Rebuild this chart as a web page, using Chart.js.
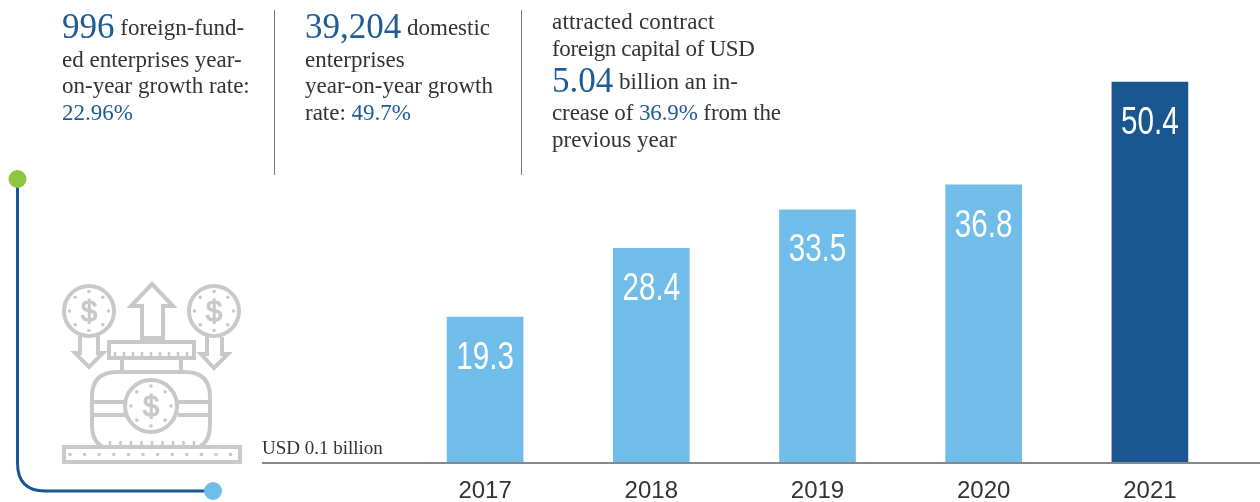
<!DOCTYPE html>
<html><head><meta charset="utf-8">
<script src="https://cdn.jsdelivr.net/npm/chart.js@4"></script>
<style>
html,body{margin:0;padding:0;background:#fff;width:1260px;height:502px;overflow:hidden}
#wrap{position:relative;width:1260px;height:502px}
canvas{position:absolute;left:0;top:0}
svg{position:absolute;left:0;top:0}
.t{position:absolute;white-space:nowrap;font-family:"Liberation Serif",serif;font-size:23px;color:#333;line-height:32px}
.b{color:#1f5b95}.big{font-size:35px;color:#1f5b95;position:relative;top:3px}
.v{position:absolute;width:1px;background:#777;top:10px;height:165px}
</style></head><body><div id="wrap">
<canvas id="c" width="1260" height="502"></canvas>
<svg id="icon" width="1260" height="502" viewBox="0 0 1260 502" fill="none">
<path d="M17.5 179V463Q17.5 491 45 491H213" stroke="#1a5690" stroke-width="3"/>
<circle cx="17.5" cy="179" r="9" fill="#8cc63f"/>
<circle cx="213" cy="491" r="9" fill="#70bdea"/>
<g id="ig" stroke="#c9c9c9" stroke-width="4" stroke-linejoin="miter">
<circle cx="89" cy="311" r="25"/><circle cx="214" cy="311" r="25"/>
<path d="M142 338V306H131L152 284L173 306H163V338Z"/>
<rect x="109" y="342" width="85" height="16"/>
<path d="M122 358V372M181 358V372"/>
<path d="M117 372H185Q210 372 210 397V425Q210 450 185 450H117Q92 450 92 425V397Q92 372 117 372Z"/>
<path d="M92 402H126M92 415H126M178 402H210M178 415H210"/>
<circle cx="151" cy="406" r="26" fill="#fff"/>
<rect x="64" y="447" width="176" height="15" fill="#fff"/>
<path d="M80 336V353H75L89 367L103 353H98V336"/>
<path d="M207 337V354H201L214 368L228 354H222V337"/>
</g>
<g id="sym" font-family="Liberation Sans" font-size="29" fill="#c9c9c9" stroke="#c9c9c9" stroke-width="1.2" text-anchor="middle">
<text x="89" y="321">$</text><text x="214" y="321">$</text><text x="151" y="416">$</text>
</g>
</svg>
<div class="t" style="left:62px;top:8px"><span class="big">996</span> foreign-fund-</div>
<div class="t" style="left:62px;top:44px">ed enterprises year-</div>
<div class="t" style="left:62px;top:70px">on-year growth rate:</div>
<div class="t" style="left:62px;top:97px"><span class="b">22.96%</span></div>
<div class="v" style="left:274px"></div>
<div class="t" style="left:305px;top:8px"><span class="big">39,204</span> domestic</div>
<div class="t" style="left:305px;top:44px">enterprises</div>
<div class="t" style="left:305px;top:70px">year-on-year growth</div>
<div class="t" style="left:305px;top:97px">rate: <span class="b">49.7%</span></div>
<div class="v" style="left:521px"></div>
<div class="t" style="left:552px;top:6px;letter-spacing:.2px">attracted contract</div>
<div class="t" style="left:552px;top:33px;letter-spacing:-.35px">foreign capital of USD</div>
<div class="t" style="left:552px;top:62px"><span class="big">5.04</span> billion an in-</div>
<div class="t" style="left:552px;top:97px;letter-spacing:-.12px">crease of <span class="b">36.9%</span> from the</div>
<div class="t" style="left:552px;top:124px">previous year</div>
<div class="t" style="left:262px;top:432px;font-size:19px">USD 0.1 billion</div>
</div>
<script>
const categories = ["2017","2018","2019","2020","2021"];
const values = [19.3,28.4,33.5,36.8,50.4];
const barColors = ["#70bdea","#70bdea","#70bdea","#70bdea","#1a5690"];

const ns="http://www.w3.org/2000/svg", ig=document.getElementById("ig");
function dot(x,y){const c=document.createElementNS(ns,"circle");c.setAttribute("cx",x);c.setAttribute("cy",y);c.setAttribute("r",1.8);c.setAttribute("fill","#c9c9c9");c.setAttribute("stroke","none");ig.appendChild(c);}
[[89,311,19.5],[214,311,19.5],[151,406,20]].forEach(([cx,cy,r])=>{for(let i=0;i<8;i++){const a=i*Math.PI/4;dot(cx+r*Math.cos(a),cy+r*Math.sin(a));}});
for(let x=70;x<240;x+=14.6)dot(x,454.5);
let d="";for(let x=115;x<192;x+=9)d+=`M${x} 358V352`;
for(let x=110;x<196;x+=10.5)d+=`M${x} 447V441`;
const tk=document.createElementNS(ns,"path");tk.setAttribute("d",d);tk.setAttribute("stroke-width","2.5");ig.appendChild(tk);

const extras={id:"extras",afterDatasetsDraw(ch){
  const g=ch.ctx,y0=ch.scales.y.getPixelForValue(0);
  g.save();
  g.strokeStyle="#888";g.lineWidth=2;g.beginPath();g.moveTo(262,y0);g.lineTo(1260,y0);g.stroke();
  g.fillStyle="#fff";g.textAlign="center";g.textBaseline="middle";
  ch.getDatasetMeta(0).data.forEach((b,i)=>{
    g.save();g.translate(b.x,b.y+41);g.scale(0.76,1);
    g.font='39px "Liberation Sans"';g.fillText(values[i].toFixed(1),0,0);g.restore();
  });
  g.restore();
}};
new Chart(document.getElementById("c"),{
  type:"bar",
  data:{labels:categories,datasets:[{data:values,backgroundColor:barColors,barThickness:76,borderWidth:0}]},
  options:{responsive:false,animation:false,devicePixelRatio:1,
    layout:{padding:{left:402,right:27,top:9.4,bottom:0}},
    plugins:{legend:{display:false},tooltip:{enabled:false}},
    scales:{
      x:{grid:{display:false},border:{display:false},
         afterFit(s){s.height=39;},
         ticks:{color:"#333",font:{family:"Liberation Sans",size:24},padding:6,maxRotation:0}},
      y:{display:false,min:0,max:60}
    }},
  plugins:[extras]
});
</script></body></html>
